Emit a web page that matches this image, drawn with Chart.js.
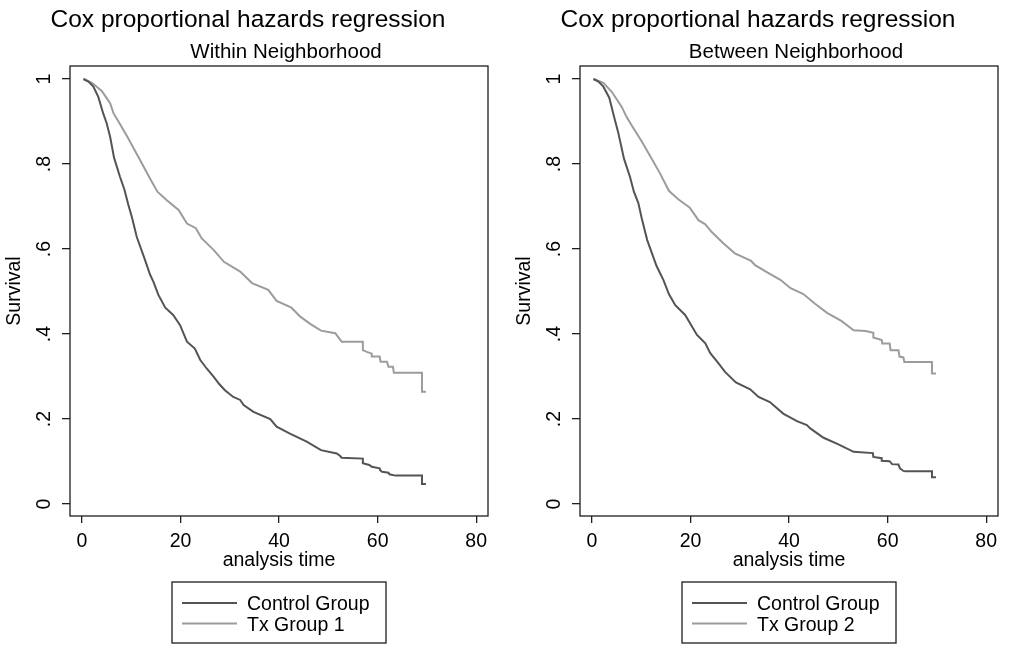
<!DOCTYPE html>
<html>
<head>
<meta charset="utf-8">
<script src="https://cdn.jsdelivr.net/npm/chart.js@4.4.1/dist/chart.umd.min.js"></script>
<style>
  html, body { margin: 0; padding: 0; background: #fff; }
  .panel { position: absolute; top: 0; width: 510px; height: 645px; }
  #p1 { left: 0; }
  #p2 { left: 510px; }
</style>
</head>
<body>
<div class="panel" id="p1"><canvas id="c1"></canvas></div>
<div class="panel" id="p2"><canvas id="c2"></canvas></div>
<script>
// axis ticks
const xTicks = [0, 20, 40, 60, 80];
const xTickLabels = ['0', '20', '40', '60', '80'];
const yTicks = [0, 0.2, 0.4, 0.6, 0.8, 1];
const yTickLabels = ['0', '.2', '.4', '.6', '.8', '1'];

const titleText = 'Cox proportional hazards regression';
const subtitles = ['Within Neighborhood', 'Between Neighborhood'];
const seriesNames1 = ['Control Group', 'Tx Group 1'];
const seriesNames2 = ['Control Group', 'Tx Group 2'];

// [analysis time, survival]
const withinControl = [
  [0.3, 1.0], [1.3, 0.994], [2.3, 0.982], [3.3, 0.958], [4.3, 0.919], [5.0, 0.896],
  [5.7, 0.864], [6.5, 0.815], [7.7, 0.770], [8.6, 0.740], [9.4, 0.704], [10.1, 0.676],
  [11.1, 0.629], [12.8, 0.574], [13.8, 0.540], [14.5, 0.523], [15.5, 0.492], [16.9, 0.462],
  [18.5, 0.445], [19.9, 0.421], [21.3, 0.382], [22.9, 0.366], [24.0, 0.339], [25.3, 0.319],
  [26.7, 0.300], [27.8, 0.283], [29.0, 0.268], [30.7, 0.252], [32.1, 0.245], [32.8, 0.233],
  [34.8, 0.217], [38.2, 0.200], [39.5, 0.182], [42.2, 0.166], [45.6, 0.147], [48.5, 0.127],
  [51.7, 0.119], [52.4, 0.113], [52.7, 0.109], [57.0, 0.107], [57.0, 0.096], [58.3, 0.092],
  [58.8, 0.088], [60.4, 0.084], [60.5, 0.080], [60.9, 0.076], [62.2, 0.074], [62.4, 0.070],
  [63.6, 0.067], [69.0, 0.067], [69.0, 0.047], [69.8, 0.047]
];
const withinTx = [
  [0.3, 1.0], [2.0, 0.991], [4.0, 0.972], [5.0, 0.955], [5.7, 0.943], [6.4, 0.919],
  [7.4, 0.900], [9.2, 0.864], [11.8, 0.809], [13.8, 0.766], [15.3, 0.735], [17.2, 0.715],
  [19.6, 0.692], [21.3, 0.660], [23.1, 0.649], [24.3, 0.625], [26.7, 0.598], [28.8, 0.570],
  [32.1, 0.547], [34.5, 0.520], [37.8, 0.504], [39.5, 0.478], [42.5, 0.462], [44.3, 0.441],
  [46.3, 0.424], [48.5, 0.408], [51.4, 0.402], [52.7, 0.382], [57.0, 0.382], [57.0, 0.362],
  [57.8, 0.358], [58.8, 0.354], [58.8, 0.347], [60.4, 0.347], [60.6, 0.335], [61.9, 0.335],
  [62.2, 0.323], [63.1, 0.323], [63.3, 0.309], [69.0, 0.309], [69.0, 0.264], [69.8, 0.264]
];
const betweenControl = [
  [0.3, 1.0], [1.3, 0.994], [2.3, 0.982], [3.5, 0.956], [4.5, 0.910], [5.3, 0.875],
  [6.5, 0.812], [7.7, 0.770], [8.5, 0.735], [9.4, 0.708], [10.1, 0.672], [11.2, 0.621],
  [13.1, 0.560], [14.5, 0.527], [15.6, 0.494], [16.9, 0.468], [18.9, 0.445], [21.3, 0.398],
  [23.0, 0.378], [24.0, 0.355], [25.4, 0.335], [27.0, 0.311], [29.2, 0.286], [32.1, 0.270],
  [33.8, 0.252], [36.1, 0.240], [38.8, 0.213], [41.6, 0.195], [43.6, 0.186], [44.3, 0.178],
  [47.0, 0.156], [49.9, 0.141], [53.1, 0.123], [57.0, 0.120], [57.1, 0.111], [58.8, 0.108],
  [58.8, 0.102], [60.4, 0.101], [60.9, 0.094], [62.2, 0.093], [62.5, 0.084], [63.2, 0.078],
  [63.6, 0.077], [69.0, 0.077], [69.0, 0.063], [69.8, 0.063]
];
const betweenTx = [
  [0.3, 1.0], [2.3, 0.991], [4.0, 0.970], [5.3, 0.947], [6.0, 0.935], [7.0, 0.911],
  [8.0, 0.892], [9.4, 0.866], [10.1, 0.853], [12.0, 0.815], [13.8, 0.778], [15.6, 0.737],
  [17.5, 0.717], [19.8, 0.698], [21.6, 0.668], [23.0, 0.658], [24.3, 0.640], [26.7, 0.613],
  [29.0, 0.590], [32.3, 0.572], [33.1, 0.562], [35.3, 0.547], [38.3, 0.527], [40.3, 0.508],
  [42.9, 0.494], [45.2, 0.472], [47.7, 0.450], [50.6, 0.431], [53.1, 0.409], [55.5, 0.407],
  [57.1, 0.403], [57.1, 0.392], [58.8, 0.386], [58.9, 0.378], [60.4, 0.378], [60.6, 0.362],
  [62.2, 0.362], [62.4, 0.347], [63.2, 0.345], [63.4, 0.334], [69.0, 0.334], [69.0, 0.307],
  [69.8, 0.307]
];

const FONT = '"Liberation Sans", Arial, Helvetica, sans-serif';
const controlColor = '#545454';
const txColor = '#9c9c9c';
const frameColor = '#1e1e1e';

// title, subtitle, plot box and the boxed legend, Stata style
const stataDecor = {
  id: 'stataDecor',
  afterDraw(chart, args, opts) {
    const ctx = chart.ctx;
    const a = chart.chartArea;
    const mid = (a.left + a.right) / 2;
    ctx.save();
    ctx.strokeStyle = frameColor;
    ctx.lineWidth = 1.3;
    ctx.strokeRect(a.left, a.top, a.right - a.left, a.bottom - a.top);

    ctx.fillStyle = '#000';
    ctx.textAlign = 'center';
    ctx.textBaseline = 'alphabetic';
    ctx.font = '24.5px ' + FONT;
    ctx.fillText(opts.title, mid - 31, 27);
    ctx.font = '20.5px ' + FONT;
    ctx.fillText(opts.subtitle, mid + 7, 58);

    const w = 214, h = 61;
    const x0 = mid - w / 2, y0 = 582;
    ctx.strokeStyle = frameColor;
    ctx.lineWidth = 1.3;
    ctx.strokeRect(x0, y0, w, h);
    ctx.font = '19.5px ' + FONT;
    ctx.textAlign = 'left';
    chart.data.datasets.forEach((ds, i) => {
      const y = 603 + i * 20.5;
      ctx.strokeStyle = ds.borderColor;
      ctx.lineWidth = 2;
      ctx.beginPath();
      ctx.moveTo(x0 + 10, y);
      ctx.lineTo(x0 + 65, y);
      ctx.stroke();
      ctx.fillStyle = '#000';
      ctx.fillText(ds.label, x0 + 75, y + 7);
    });
    ctx.restore();
  }
};

function toXY(pairs) {
  return pairs.map(p => ({ x: p[0], y: p[1] }));
}

function makePanel(canvasId, subtitle, names, control, tx) {
  new Chart(document.getElementById(canvasId), {
    type: 'line',
    data: {
      datasets: [
        { label: names[0], data: toXY(control), borderColor: controlColor, borderWidth: 2, pointRadius: 0, tension: 0 },
        { label: names[1], data: toXY(tx), borderColor: txColor, borderWidth: 2, pointRadius: 0, tension: 0 }
      ]
    },
    options: {
      responsive: true,
      maintainAspectRatio: false,
      animation: false,
      devicePixelRatio: 1,
      layout: { padding: { left: 0, right: 22, top: 66, bottom: 0 } },
      plugins: {
        legend: { display: false },
        tooltip: { enabled: false },
        stataDecor: { title: titleText, subtitle: subtitle }
      },
      scales: {
        x: {
          type: 'linear',
          min: -2.44,
          max: 82.4,
          afterBuildTicks: s => { s.ticks = xTicks.map(v => ({ value: v })); },
          afterFit: s => { s.height = 129; },
          border: { display: false },
          grid: { drawOnChartArea: false, drawTicks: true, tickLength: 7, color: frameColor, lineWidth: 1.3 },
          ticks: {
            autoSkip: false, maxRotation: 0, padding: 7, color: '#000',
            font: { family: FONT, size: 19.5 },
            callback: v => xTickLabels[xTicks.indexOf(v)]
          },
          title: {
            display: true, text: 'analysis time', color: '#000',
            font: { family: FONT, size: 19.5 },
            padding: { top: 0, bottom: 72.5 }
          }
        },
        y: {
          type: 'linear',
          min: -0.028,
          max: 1.0306,
          afterBuildTicks: s => { s.ticks = yTicks.map(v => ({ value: v })); },
          afterFit: s => { s.width = 70; },
          border: { display: false },
          grid: { drawOnChartArea: false, drawTicks: true, tickLength: 8, color: frameColor, lineWidth: 1.3 },
          ticks: {
            autoSkip: false, minRotation: 90, maxRotation: 90, crossAlign: 'center', padding: 9,
            color: '#000', font: { family: FONT, size: 19.5 },
            callback: v => yTickLabels[yTicks.indexOf(v)]
          },
          title: {
            display: true, text: 'Survival', color: '#000',
            font: { family: FONT, size: 19.5 },
            padding: { top: 3.3, bottom: 0 }
          }
        }
      }
    },
    plugins: [stataDecor]
  });
}

makePanel('c1', subtitles[0], seriesNames1, withinControl, withinTx);
makePanel('c2', subtitles[1], seriesNames2, betweenControl, betweenTx);
</script>
</body>
</html>
